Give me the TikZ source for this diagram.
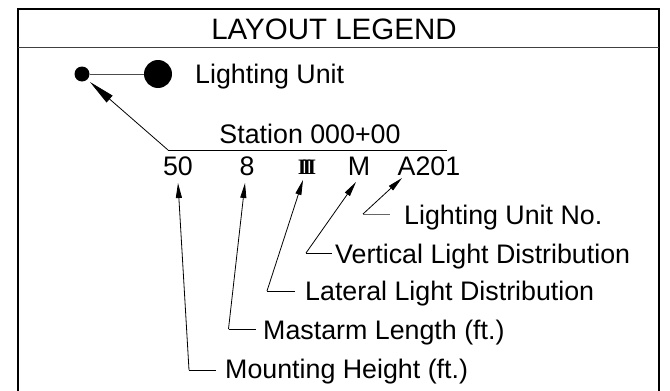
\documentclass[tikz,border=0pt]{standalone}
\usepackage{fontspec}
\setmainfont{Liberation Sans}
\newfontfamily\romfont{Liberation Serif}
\usetikzlibrary{arrows.meta}
\begin{document}
\begin{tikzpicture}[x=1pt,y=-1pt,
  lbl/.style={inner sep=0pt,anchor=base west,font=\fontsize{26.8}{30}\selectfont},
  num/.style={inner sep=0pt,anchor=base,font=\fontsize{26.8}{30}\selectfont},
  conn/.style={line width=0.8pt,-{Triangle[length=15pt,width=6pt]}},
  leg/.style={line width=0.8pt},
  frame/.style={line width=1.6pt}]
\useasboundingbox (0,0) rectangle (670,391);
% frame
\draw[frame] (18,391) -- (18,9) -- (659,9) -- (659,391);
\draw[line width=1pt,black!75] (18,47) -- (659,47);
\node[inner sep=0pt,anchor=base,font=\fontsize{29.5}{32}\selectfont] (title) at (334,39) {LAYOUT LEGEND};
% lighting unit symbol
\node[circle,fill=black,inner sep=0pt,minimum size=15pt] (pole) at (82,74) {};
\node[circle,fill=black,inner sep=0pt,minimum size=28pt] (lamp) at (158,74) {};
\draw[line width=1pt,black!70] (pole) -- (lamp);
\node[lbl] (lu) at (195,83.5) {Lighting Unit};
% station line
\coordinate (sl) at (168,150);
\coordinate (sr) at (447,150);
\coordinate (ptip) at (90,82);
\draw[line width=0.8pt] (sr) -- (sl);
\draw[line width=0.8pt,-{Triangle[length=26pt,width=9pt]}] (sl) -- (ptip);
\node[num] (station) at (310,143) {Station 000+00};
% numbers
\node[num] (n50) at (178,175) {50};
\node[num] (n8) at (247,175) {8};
\node[inner sep=0pt,anchor=base,font=\fontsize{22}{24}\selectfont\romfont\bfseries] (nIII) at (307,174) {I\kern-3.6pt I\kern-3.6pt I};
\node[num] (nM) at (359,175) {M};
\node[num] (nA) at (429,175) {A201};
% tips
\coordinate (t50) at (178,183);
\coordinate (t8) at (245,183);
\coordinate (tIII) at (303,180);
\coordinate (tM) at (356,182);
\coordinate (tA) at (402,178);
% corners
\coordinate (c50) at (189,370);
\coordinate (c8) at (228.5,329);
\coordinate (cIII) at (267,291);
\coordinate (cM) at (306,253);
\coordinate (cA) at (363,214);
% leg ends
\coordinate (e50) at (216,370);
\coordinate (e8) at (256,329);
\coordinate (eIII) at (295,291);
\coordinate (eM) at (332,253);
\coordinate (eA) at (390,214);
% labels
\node[lbl] (lA) at (404,224) {Lighting Unit No.};
\node[lbl] (lM) at (335,263) {Vertical Light Distribution};
\node[lbl] (lIII) at (305,300.5) {Lateral Light Distribution};
\node[lbl] (l8) at (263,339) {Mastarm Length (ft.)};
\node[lbl] (l50) at (225,378.5) {Mounting Height (ft.)};
% connectors
\draw[conn] (c50) -- (t50);
\draw[leg] (c50) -- (e50);
\draw[conn] (c8) -- (t8);
\draw[leg] (c8) -- (e8);
\draw[conn] (cIII) -- (tIII);
\draw[leg] (cIII) -- (eIII);
\draw[conn] (cM) -- (tM);
\draw[leg] (cM) -- (eM);
\draw[conn] (cA) -- (tA);
\draw[leg,black!60] (cA) -- (eA);
\end{tikzpicture}
\end{document}
